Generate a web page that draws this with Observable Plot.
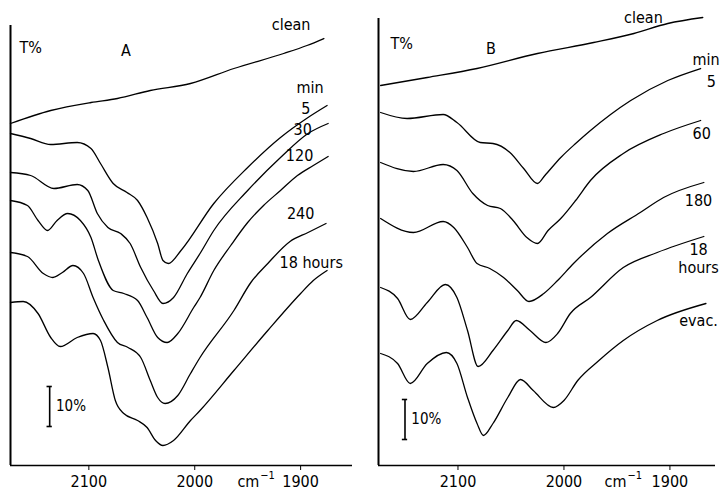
<!DOCTYPE html>
<html>
<head>
<meta charset="utf-8">
<script src="https://cdn.jsdelivr.net/npm/d3@7"></script>
<script src="https://cdn.jsdelivr.net/npm/@observablehq/plot@0.6"></script>
<style>
  body { margin: 0; background: #fff; }
  #wrap { display: flex; width: 720px; height: 491px; }
  #wrap svg { overflow: visible; }
</style>
</head>
<body>
<div id="wrap"></div>
<script>
// IR transmission spectra, [wavenumber cm-1, T% (traces offset)]
// Panel A
const aClean = [[2174,85.5],[2136,88.75],[2098,90.75],[2073,91.75],[2042,93.75],[2004,95.5],[1963,99.25],[1916,103],[1894,105],[1878,106.75]];
const a5 = [[2174,83],[2155,81.75],[2136,80.25],[2111,80.75],[2098,79.25],[2089,75.5],[2077,70.5],[2064,68.25],[2054,66.25],[2045,62],[2035,55.5],[2030,51.25],[2025,50.5],[2013,53.75],[1982,65.5],[1950,74.5],[1919,82],[1893,87],[1875,90]];
const a30 = [[2174,73.25],[2155,72.5],[2133,69.25],[2111,70.25],[2101,68.75],[2092,63],[2082,59.5],[2070,58],[2061,55.5],[2051,49.5],[2039,43.75],[2030,40.5],[2020,42],[2007,48],[1995,53],[1982,58.75],[1950,68.75],[1919,77],[1893,83],[1874,85.5]];
const a120 = [[2174,66.25],[2158,65],[2148,61.25],[2139,58.75],[2130,61.25],[2120,63],[2108,61.25],[2098,57],[2091,51.25],[2077,43.75],[2067,43],[2054,41.25],[2045,37],[2035,32],[2026,30.75],[2016,33],[2001,39.5],[1995,42],[1982,48.75],[1966,55],[1950,60.75],[1935,65],[1919,68.75],[1903,72.5],[1888,75],[1874,77.25]];
const a240 = [[2174,53.25],[2158,52.25],[2143,48],[2134,47],[2125,48.25],[2115,50],[2105,48],[2096,42],[2086,36.25],[2073,30.75],[2063,29.5],[2051,27],[2042,21.25],[2035,17],[2028,15.5],[2016,17.5],[2004,23],[1995,27],[1963,38.75],[1947,45.75],[1931,50.5],[1910,56],[1893,58.25],[1876,60.5]];
const a18h = [[2174,40.75],[2162,41],[2148,38],[2136,32],[2127,29.75],[2111,32],[2096,33],[2089,31.25],[2082,24.5],[2075,16.25],[2067,13],[2054,11.25],[2045,9.5],[2037,6.25],[2030,5],[2020,6.25],[2004,11.25],[1995,13.75],[1963,23.75],[1931,33.75],[1900,43],[1888,46.25],[1875,48.75]];

// Panel B
const bClean = [[2173,95],[2129,97],[2082,99.25],[2025,103],[1972,105.75],[1934,108],[1902,110.5],[1869,112]];
const b5 = [[2173,88.25],[2148,86.75],[2114,87.75],[2101,85.75],[2079,80.75],[2067,80.5],[2051,78.25],[2038,74.25],[2025,70.5],[2018,72.5],[2003,77],[1989,80.5],[1975,83.75],[1956,87.75],[1937,91.25],[1902,96.25],[1871,99.25]];
const b60 = [[2173,75.75],[2142,73.5],[2114,75.25],[2101,73.75],[2086,68],[2072,65],[2060,64.25],[2048,61.25],[2035,57],[2025,55.5],[2015,58.75],[2003,61.75],[1989,66.25],[1975,71.25],[1944,78],[1906,83],[1871,86.25]];
const b180 = [[2173,61.75],[2142,58.25],[2114,61],[2104,59.5],[2091,54.5],[2082,50.5],[2070,49.25],[2057,47],[2044,43.75],[2033,41],[2019,43],[2006,46.25],[1991,50.5],[1959,58],[1928,63.25],[1906,67],[1868,70.75]];
const b18h = [[2173,44.5],[2157,41.75],[2145,36.5],[2129,40.75],[2112,45.25],[2101,42],[2091,33.75],[2081,24.75],[2067,28.75],[2053,33.75],[2045,36.25],[2032,33.75],[2017,30.75],[2006,33],[1994,38],[1975,42],[1944,49.5],[1912,53.25],[1868,57.25]];
const bEvac = [[2173,28],[2157,25.5],[2145,20.5],[2129,25.5],[2111,28.25],[2101,25.5],[2091,17],[2082,10.5],[2076,7.5],[2067,10.5],[2053,17],[2041,21.5],[2029,18.75],[2010,14.5],[2000,16.25],[1987,21.25],[1967,26.25],[1944,31.25],[1912,36.25],[1866,40.5]];

// Axis ticks
const xTicks = [2100, 2000, 1900];

// Curve labels [wavenumber, T%, text]
const aLabels = [[1909,110.25,"clean"],[1891,94.5,"min"],[1895,89.25,"5"],[1898,84,"30"],[1901,77.5,"120"],[1900,63,"240"],[1890,50.75,"18 hours"]];
const bLabels = [[1925,112,"clean"],[1866,101.5,"min"],[1861,96,"5"],[1870,83,"60"],[1873,66.25,"180"],[1873,54,"18"],[1873,49.5,"hours"],[1873,36.25,"evac."]];

// 10% scale bars [wavenumber, low T%, high T%]
const aBar = [2137, 9.75, 19.75];
const bBar = [2150, 6.5, 16.5];

const FONT = "'DejaVu Sans Condensed', 'DejaVu Sans', sans-serif";

function panel({traces, labels, bar, letter, letterAt, tAt, unitAt, xDomain, yTop, marginLeft, marginRight, marginTop}) {
  const rows = traces.flatMap((pts, i) => pts.map(([wn, t]) => ({wn, t, trace: i})));
  const lab = labels.map(([wn, t, text]) => ({wn, t, text}));
  const [bx, blo, bhi] = bar;
  return Plot.plot({
    width: 360,
    height: 491,
    marginLeft, marginRight, marginTop,
    marginBottom: 26,
    style: {fontFamily: FONT, fontSize: "16px", color: "#000", background: "#fff", overflow: "visible"},
    x: {domain: xDomain, ticks: xTicks, tickSize: 5, tickPadding: 5, tickFormat: d => String(d), label: null},
    y: {domain: [0, yTop], axis: null},
    marks: [
      Plot.ruleX([xDomain[0]], {stroke: "#000", strokeWidth: 2}),
      Plot.ruleY([0], {stroke: "#000", strokeWidth: 1.6}),
      Plot.line(rows, {x: "wn", y: "t", z: "trace", curve: "monotone-x", stroke: "#000", strokeWidth: 1.3}),
      Plot.text(lab, {x: "wn", y: "t", text: "text", fontSize: 16}),
      Plot.text([tAt], {x: d => d[0], y: d => d[1], text: () => "T%", fontSize: 16}),
      Plot.text([letterAt], {x: d => d[0], y: d => d[1], text: () => letter, fontSize: 16}),
      // 10% scale bar
      Plot.ruleX([bar], {x: () => bx, y1: () => blo, y2: () => bhi, stroke: "#000", strokeWidth: 1.6}),
      Plot.ruleY([blo, bhi], {y: d => d, x1: bx + 2.5, x2: bx - 2.5, stroke: "#000", strokeWidth: 1.6}),
      Plot.text([bar], {x: () => bx - 6, y: () => (blo + bhi) / 2, text: () => "10%", textAnchor: "start", fontSize: 15}),
      // unit label under the axis
      Plot.text([unitAt], {x: d => d[0], y: 0, dy: 16, text: () => "cm", fontSize: 16, textAnchor: "end"}),
      Plot.text([unitAt], {x: d => d[0], y: 0, dy: 10, dx: 1, text: () => "−1", fontSize: 11, textAnchor: "start"})
    ]
  });
}

const wrap = document.getElementById("wrap");
wrap.append(panel({
  traces: [aClean, a5, a30, a120, a240, a18h],
  labels: aLabels, bar: aBar,
  letter: "A", letterAt: [2065, 103.75], tAt: [2155, 104.5], unitAt: [1939],
  xDomain: [2174, 1851], yTop: 110,
  marginLeft: 10, marginRight: 8, marginTop: 25
}));
wrap.append(panel({
  traces: [bClean, b5, b60, b180, b18h, bEvac],
  labels: bLabels, bar: bBar,
  letter: "B", letterAt: [2069, 104.25], tAt: [2153, 105.5], unitAt: [1941],
  xDomain: [2175, 1857], yTop: 111.75,
  marginLeft: 18, marginRight: 5, marginTop: 18
}));
</script>
</body>
</html>
